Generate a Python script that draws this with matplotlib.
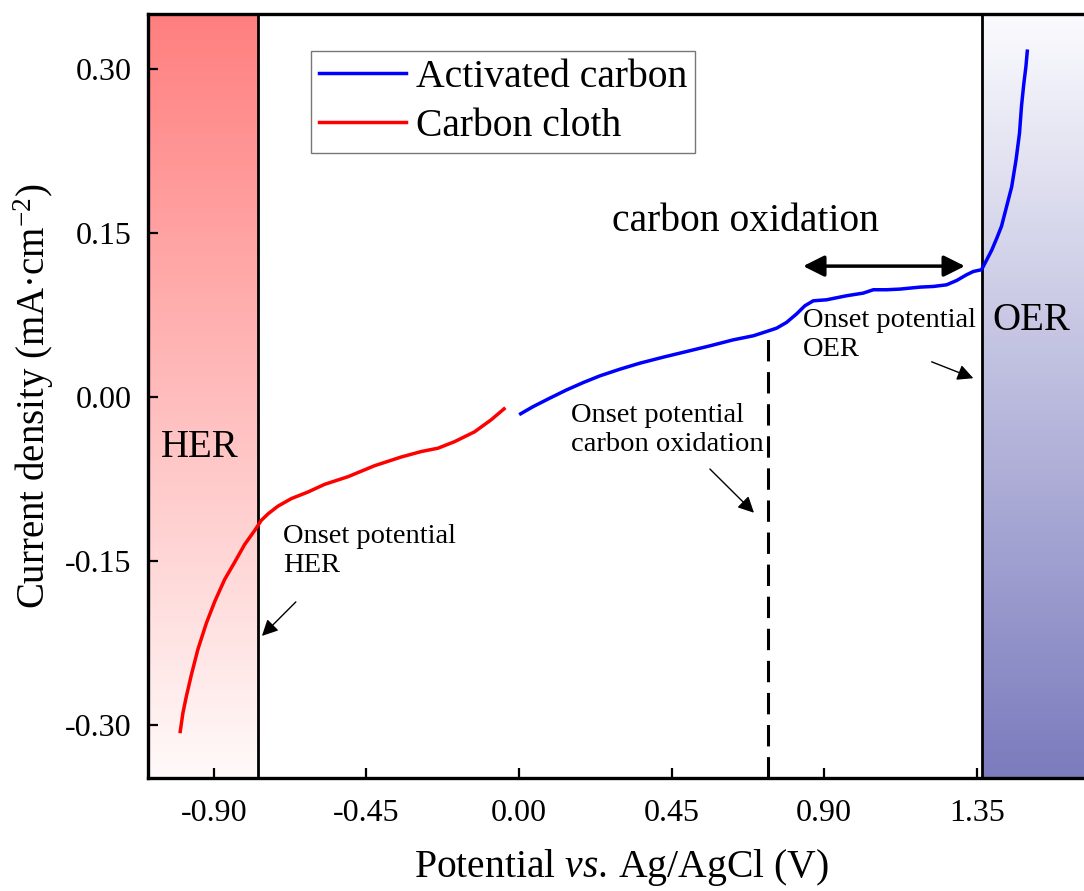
import matplotlib
matplotlib.use('Agg')
import matplotlib.pyplot as plt
import numpy as np
from matplotlib.colors import LinearSegmentedColormap

plt.rcParams['font.family'] = ['Liberation Serif', 'DejaVu Serif']
plt.rcParams['mathtext.fontset'] = 'custom'
plt.rcParams['mathtext.rm'] = 'Liberation Serif'
plt.rcParams['mathtext.it'] = 'Liberation Serif:italic'

# data
cloth_x = [-0.999, -0.991, -0.981, -0.966, -0.947, -0.922, -0.897, -0.868, -0.838, -0.809,
           -0.779, -0.760, -0.740, -0.711, -0.671, -0.622, -0.573, -0.504, -0.426, -0.347,
           -0.288, -0.239, -0.190, -0.131, -0.082, -0.044]
cloth_y = [-0.306, -0.289, -0.274, -0.254, -0.231, -0.207, -0.187, -0.167, -0.151, -0.135,
           -0.122, -0.113, -0.107, -0.100, -0.093, -0.087, -0.080, -0.073, -0.063, -0.055,
           -0.050, -0.047, -0.041, -0.032, -0.021, -0.011]

act_x = [0.005, 0.042, 0.091, 0.141, 0.190, 0.239, 0.298, 0.357, 0.426, 0.494, 0.563, 0.632,
         0.691, 0.730, 0.760, 0.789, 0.819, 0.843, 0.868, 0.907, 0.966, 1.015, 1.045, 1.084,
         1.124, 1.153, 1.183, 1.222, 1.261, 1.291, 1.320, 1.340, 1.364, 1.379, 1.394, 1.409,
         1.423, 1.438, 1.453, 1.466, 1.476, 1.482, 1.489, 1.495, 1.499]
act_y = [-0.0155, -0.0089, -0.0012, 0.0064, 0.0131, 0.0192, 0.0253, 0.0308, 0.0363, 0.0414,
         0.0466, 0.0521, 0.0558, 0.0597, 0.0628, 0.0680, 0.0759, 0.0832, 0.0878, 0.0887,
         0.0924, 0.0948, 0.0979, 0.0979, 0.0985, 0.0994, 0.1003, 0.1009, 0.1024, 0.1064,
         0.1116, 0.1146, 0.1162, 0.125, 0.134, 0.145, 0.156, 0.174, 0.192, 0.217, 0.241,
         0.266, 0.287, 0.302, 0.316]

her_onset = -0.77
oer_onset = 1.365
cox_onset = 0.734

x_ticks = [-0.90, -0.45, 0.00, 0.45, 0.90, 1.35]
y_ticks = [-0.30, -0.15, 0.00, 0.15, 0.30]

xmin, xmax = -1.094, 1.70
ymin, ymax = -0.3485, 0.350

fig = plt.figure(figsize=(10.84, 8.91), dpi=100)
ax = fig.add_axes([148 / 1084, 113 / 891, (xmax - xmin) * 339.1 / 1084, 764 / 891])

# shaded regions
her_cmap = LinearSegmentedColormap.from_list('her', ['#fffafa', '#ff7f7f'])
oer_cmap = LinearSegmentedColormap.from_list('oer', ['#7b7bbe', '#fbfbfe'])
grad = np.linspace(0, 1, 256).reshape(-1, 1)
ax.imshow(grad, cmap=her_cmap, origin='lower', aspect='auto',
          extent=[xmin, her_onset, ymin, ymax], zorder=0)
ax.imshow(grad, cmap=oer_cmap, origin='lower', aspect='auto',
          extent=[oer_onset, xmax + 0.2, ymin, ymax], zorder=0)
ax.axvline(her_onset, color='black', lw=2.0, zorder=3)
ax.axvline(oer_onset, color='black', lw=2.0, zorder=3)

ax.plot(act_x, act_y, color='#0000ff', lw=2.5, label='Activated carbon', zorder=4)
ax.plot(cloth_x, cloth_y, color='#ff0000', lw=2.5, label='Carbon cloth', zorder=4)

ax.plot([cox_onset, cox_onset], [ymin, 0.060], color='black', lw=2.2,
        dashes=(7, 3.5), zorder=3)

ax.set_xlim(xmin, xmax)
ax.set_ylim(ymin, ymax)
ax.set_xticks(x_ticks)
ax.set_yticks(y_ticks)
ax.set_xticklabels(['%.2f' % v for v in x_ticks])
ax.set_yticklabels(['%.2f' % v for v in y_ticks])
ax.tick_params(direction='in', length=7, width=1.6, labelsize=23)
ax.tick_params(axis='x', pad=15)
ax.tick_params(axis='y', pad=12)

for s in ['left', 'bottom', 'top']:
    ax.spines[s].set_linewidth(2.4)
ax.spines['right'].set_visible(False)

ax.set_xlabel('Potential $\\mathit{vs.}\\,$Ag/AgCl (V)', fontsize=28.5, labelpad=14)
ax.set_ylabel('Current density (mA·cm$^{-2}$)', fontsize=28, labelpad=6)

leg = ax.legend(loc='upper left', bbox_to_anchor=(0.172, 0.9516), fontsize=28.5,
                frameon=True, fancybox=False, edgecolor='#777777', framealpha=1,
                handlelength=2.2, handletextpad=0.25, labelspacing=0.3,
                borderpad=0.2, borderaxespad=0)
leg.get_frame().set_linewidth(1.0)

# text labels
ax.text(-0.941, -0.046, 'HER', fontsize=28, ha='center', va='center')
ax.text(1.51, 0.070, 'OER', fontsize=28, ha='center', va='center')
ax.text(0.667, 0.160, 'carbon oxidation', fontsize=28.5, ha='center', va='center')
ax.annotate('', xy=(0.838, 0.1195), xytext=(1.315, 0.1195),
            arrowprops=dict(arrowstyle='<|-|>', color='black', lw=2.5,
                            mutation_scale=32, shrinkA=0, shrinkB=0))

ax.text(-0.696, -0.141, 'Onset potential\nHER', fontsize=20.5, ha='left', va='center',
        linespacing=1.2)
ax.annotate('', xy=(-0.758, -0.2186), xytext=(-0.658, -0.1875),
            arrowprops=dict(arrowstyle='-|>', color='black', lw=1,
                            mutation_scale=24, shrinkA=0, shrinkB=0))

ax.text(0.152, -0.030, 'Onset potential\ncarbon oxidation', fontsize=20.5, ha='left',
        va='center', linespacing=1.2)
ax.annotate('', xy=(0.693, -0.106), xytext=(0.563, -0.066),
            arrowprops=dict(arrowstyle='-|>', color='black', lw=1,
                            mutation_scale=24, shrinkA=0, shrinkB=0))

ax.text(0.838, 0.0565, 'Onset potential\nOER', fontsize=20.5, ha='left', va='center',
        linespacing=1.2)
ax.annotate('', xy=(1.340, 0.017), xytext=(1.217, 0.032),
            arrowprops=dict(arrowstyle='-|>', color='black', lw=1,
                            mutation_scale=24, shrinkA=0, shrinkB=0))

fig.savefig('out.png', dpi=100)
